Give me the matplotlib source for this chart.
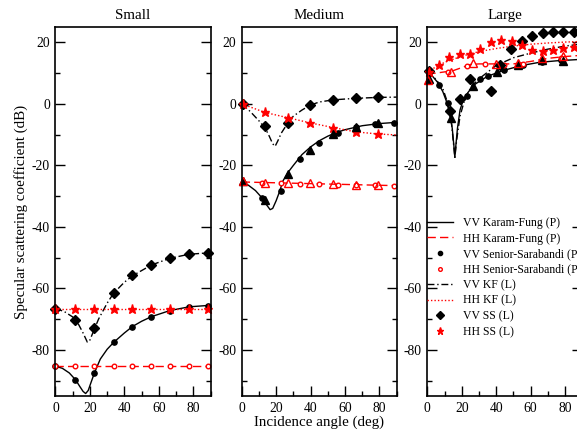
import matplotlib
matplotlib.use('Agg')
import matplotlib.pyplot as plt
from matplotlib.ticker import MultipleLocator

plt.rcParams['font.family'] = ['Liberation Serif', 'DejaVu Serif']
plt.rcParams['axes.unicode_minus'] = False

titles = ['Small', 'Medium', 'Large']

# ---- Small ----
sm_vv_kf_p_x = [0, 4, 8, 11.6, 14, 16, 17.5, 19, 20.5, 22.6, 26, 30, 33.7, 40, 44.7, 50, 55.7, 66.5, 77.6, 90]
sm_vv_kf_p_y = [-85.3, -86, -87.5, -89.7, -91.8, -93.5, -94.2, -93.2, -90.8, -87.5, -83, -79.8, -77.6, -74.5,
                -72.4, -70.7, -69.2, -67.2, -66, -65.5]
sm_hh_kf_p_x = [0, 90]
sm_hh_kf_p_y = [-85.2, -85.2]
sm_vv_ss_p_x = [0, 11.6, 22.6, 33.7, 44.7, 55.7, 66.5, 77.6, 88.6]
sm_vv_ss_p_y = [-85.3, -89.7, -87.5, -77.6, -72.4, -69.2, -67.2, -66, -65.6]
sm_hh_ss_p_x = [0, 11.6, 22.6, 33.7, 44.7, 55.7, 66.5, 77.6, 88.6]
sm_hh_ss_p_y = [-85.2] * 9
sm_vv_kf_l_x = [0, 5, 10, 13, 16, 18.5, 20, 22, 25, 30, 33.7, 40, 44.7, 55.7, 66.5, 77.6, 90]
sm_vv_kf_l_y = [-66.6, -67.5, -69.3, -71.3, -74.5, -77.5, -76.8, -74, -70, -64.8, -61.6, -58, -55.9, -52.4,
                -50.2, -48.9, -48.4]
sm_hh_kf_l_x = [0, 90]
sm_hh_kf_l_y = [-66.6, -66.6]
sm_vv_ss_l_x = [0, 11.6, 22.6, 33.7, 44.7, 55.7, 66.5, 77.6, 88.6]
sm_vv_ss_l_y = [-66.6, -70.3, -73, -61.4, -55.8, -52.4, -50.1, -48.9, -48.5]
sm_hh_ss_l_x = [0, 11.6, 22.6, 33.7, 44.7, 55.7, 66.5, 77.6, 88.6]
sm_hh_ss_l_y = [-66.6] * 9
sm_tri_vv_x, sm_tri_vv_y = [], []
sm_tri_hh_x, sm_tri_hh_y = [], []

# ---- Medium ----
md_vv_kf_p_x = [0, 4, 8, 12, 14, 16.5, 18, 20, 22, 24, 27, 30, 35, 40, 45, 50, 55, 60, 70, 80, 90]
md_vv_kf_p_y = [-25.3, -26.5, -28.2, -30.7, -32.5, -34.4, -34, -31.5, -28.5, -25, -22.2, -20, -16.5, -14,
                -12, -10.5, -9.3, -8.4, -7.1, -6.4, -6.0]
md_hh_kf_p_x = [0, 15, 30, 45, 60, 75, 90]
md_hh_kf_p_y = [-25.4, -25.6, -25.8, -26.0, -26.2, -26.4, -26.6]
md_vv_ss_p_x = [12, 22.7, 33.8, 44.7, 55.7, 66.6, 77.5, 88.5]
md_vv_ss_p_y = [-30.7, -28.3, -18, -12.6, -9.4, -7.6, -6.6, -6.1]
md_hh_ss_p_x = [12, 22.7, 33.8, 44.7, 55.7, 66.6, 77.5, 88.5]
md_hh_ss_p_y = [-25.6, -25.8, -26.0, -26.1, -26.3, -26.4, -26.5, -26.6]
md_vv_kf_l_x = [0, 5, 10, 13.6, 16, 18, 19.4, 21, 23, 26.8, 30, 35, 39.9, 45, 53, 66, 79, 90]
md_vv_kf_l_y = [0, -2.5, -5.5, -7.8, -10.5, -13, -13.8, -12, -9.5, -6.2, -4, -2, -0.4, 0.6, 1.3, 1.8, 2.1, 2.2]
md_hh_kf_l_x = [0, 13.6, 26.8, 39.9, 53.1, 66.1, 79.2, 90]
md_hh_kf_l_y = [0, -2.8, -4.5, -6.2, -7.7, -9.1, -9.8, -10.1]
md_vv_ss_l_x = [0.5, 13.6, 26.8, 39.9, 53.1, 66.1, 79.2]
md_vv_ss_l_y = [0, -7.2, -6.1, -0.3, 1.3, 1.8, 2.1]
md_hh_ss_l_x = [0.5, 13.6, 26.8, 39.9, 53.1, 66.1, 79.2]
md_hh_ss_l_y = [0, -2.8, -4.5, -6.2, -7.7, -9.1, -9.8]
md_tri_vv_x = [0.5, 13.6, 26.8, 39.9, 53.1, 66.1, 79.2]
md_tri_vv_y = [-25.1, -31.4, -22.9, -14.9, -9.9, -7.5, -6.3]
md_tri_hh_x = [0.5, 13.6, 26.8, 39.9, 53.1, 66.1, 79.2]
md_tri_hh_y = [-25.1, -25.6, -25.7, -25.8, -26.0, -26.3, -26.4]

# ---- Large ----
lg_vv_kf_p_x = [0, 3, 6, 9, 11, 13, 14.5, 15.5, 16, 16.5, 17.5, 19, 21, 24, 28, 35, 45, 55, 65, 75, 90]
lg_vv_kf_p_y = [9.5, 9.0, 7.0, 4.0, 1.0, -3, -8, -14, -17.4, -14, -8, -2, 1.5, 4, 6.5, 9, 11, 12.5, 13.5, 14, 14.5]
lg_hh_kf_p_x = [0, 5, 10, 14, 20, 25, 30, 40, 50, 60, 70, 80, 90]
lg_hh_kf_p_y = [9.8, 10.0, 10.4, 10.6, 11.8, 12.8, 13.0, 13.0, 13.0, 13.8, 14.8, 15.4, 15.8]
lg_vv_ss_p_x = [1, 7, 11.9, 22.9, 30.6, 35, 44.8, 55.8, 66.8, 77.8, 88.8]
lg_vv_ss_p_y = [10.9, 6.0, 0.4, 2.6, 8.0, 9.0, 11.1, 12.8, 13.6, 14.2, 14.5]
lg_hh_ss_p_x = [1, 11.9, 22.9, 33.5, 44.8, 55.8, 66.8, 77.8, 88.8]
lg_hh_ss_p_y = [9.8, 10.5, 12.2, 13.0, 12.6, 13.0, 14.0, 15.0, 15.6]
lg_vv_kf_l_x = [0, 5, 9, 12, 14, 16, 17, 19, 22, 26, 32, 40, 50, 60, 70, 80, 90]
lg_vv_kf_l_y = [10.5, 8, 5, 0, -6, -17.4, -12, -4, 2, 6, 9, 12.5, 15, 16.5, 17.8, 18.8, 19.5]
lg_hh_kf_l_x = [0, 10, 20, 30, 40, 50, 60, 70, 80, 90]
lg_hh_kf_l_y = [10.5, 13.5, 15.5, 17, 18, 18.8, 19.4, 19.8, 20.1, 20.3]
lg_vv_ss_l_x = [1, 13, 19, 25, 37, 42, 48.5, 55, 61, 67, 73, 79, 85]
lg_vv_ss_l_y = [10.7, -2.2, 1.6, 8.2, 4.1, 12.8, 18, 20.5, 22, 23, 23.3, 23.4, 23.4]
lg_hh_ss_l_x = [1, 7, 12.8, 19, 24.8, 30.6, 36.8, 42.6, 49, 54.8, 61, 67, 72.9, 78.7, 84.9]
lg_hh_ss_l_y = [10.3, 12.8, 15.4, 16.3, 16.3, 17.9, 20.1, 20.9, 20.3, 19, 17.6, 17.1, 17.4, 18.2, 18.4]
lg_tri_vv_x = [1, 13.8, 26.7, 40.3, 52.5, 66.5, 78.7]
lg_tri_vv_y = [8.2, -4.6, 5.7, 10.3, 12.7, 14.3, 14.0]
lg_tri_hh_x = [0.3, 13.8, 26.5, 40, 52.5, 66.5, 78.7]
lg_tri_hh_y = [7.8, 10.5, 13.2, 13.0, 13.2, 14.8, 15.5]

panels = [
    (sm_vv_kf_p_x, sm_vv_kf_p_y, sm_hh_kf_p_x, sm_hh_kf_p_y, sm_vv_ss_p_x, sm_vv_ss_p_y, sm_hh_ss_p_x, sm_hh_ss_p_y,
     sm_vv_kf_l_x, sm_vv_kf_l_y, sm_hh_kf_l_x, sm_hh_kf_l_y, sm_vv_ss_l_x, sm_vv_ss_l_y, sm_hh_ss_l_x, sm_hh_ss_l_y,
     sm_tri_vv_x, sm_tri_vv_y, sm_tri_hh_x, sm_tri_hh_y),
    (md_vv_kf_p_x, md_vv_kf_p_y, md_hh_kf_p_x, md_hh_kf_p_y, md_vv_ss_p_x, md_vv_ss_p_y, md_hh_ss_p_x, md_hh_ss_p_y,
     md_vv_kf_l_x, md_vv_kf_l_y, md_hh_kf_l_x, md_hh_kf_l_y, md_vv_ss_l_x, md_vv_ss_l_y, md_hh_ss_l_x, md_hh_ss_l_y,
     md_tri_vv_x, md_tri_vv_y, md_tri_hh_x, md_tri_hh_y),
    (lg_vv_kf_p_x, lg_vv_kf_p_y, lg_hh_kf_p_x, lg_hh_kf_p_y, lg_vv_ss_p_x, lg_vv_ss_p_y, lg_hh_ss_p_x, lg_hh_ss_p_y,
     lg_vv_kf_l_x, lg_vv_kf_l_y, lg_hh_kf_l_x, lg_hh_kf_l_y, lg_vv_ss_l_x, lg_vv_ss_l_y, lg_hh_ss_l_x, lg_hh_ss_l_y,
     lg_tri_vv_x, lg_tri_vv_y, lg_tri_hh_x, lg_tri_hh_y),
]

red = '#ff0000'
fig = plt.figure(figsize=(5.77, 4.36), dpi=100)
W, H = 577.0, 436.0
lefts = [55.5, 241.7, 427.3]

for i, p in enumerate(panels):
    ax = fig.add_axes([lefts[i] / W, 40 / H, 155 / W, 369 / H])
    (a_x, a_y, b_x, b_y, c_x, c_y, d_x, d_y, e_x, e_y, f_x, f_y,
     g_x, g_y, h_x, h_y, t1x, t1y, t2x, t2y) = p
    ax.plot(a_x, a_y, color='k', lw=1, label='VV Karam-Fung (P)')
    ax.plot(b_x, b_y, color=red, lw=1, dashes=(6, 3), label='HH Karam-Fung (P)')
    ax.plot(c_x, c_y, ls='none', marker='o', ms=3.8, color='k', clip_on=False, label='VV Senior-Sarabandi (P)')
    ax.plot(d_x, d_y, ls='none', marker='o', ms=3.3, mfc='white', mec=red, mew=1, clip_on=False,
            label='HH Senior-Sarabandi (P)')
    ax.plot(e_x, e_y, color='k', lw=1, dashes=(5, 2, 1, 2), label='VV KF (L)')
    ax.plot(f_x, f_y, color=red, lw=1, dashes=(1, 1.5), label='HH KF (L)')
    ax.plot(g_x, g_y, ls='none', marker='D', ms=5, color='k', clip_on=False, label='VV SS (L)')
    ax.plot(h_x, h_y, ls='none', marker='*', ms=6.5, color=red, clip_on=False, label='HH SS (L)')
    if t1x:
        ax.plot(t1x, t1y, ls='none', marker='^', ms=6, color='k', clip_on=False)
        ax.plot(t2x, t2y, ls='none', marker='^', ms=6, mfc='none', mec=red, mew=1, clip_on=False)

    ax.set_xlim(0, 90)
    ax.set_ylim(-95, 25)
    ax.xaxis.set_major_locator(MultipleLocator(20))
    ax.xaxis.set_minor_locator(MultipleLocator(10))
    ax.yaxis.set_major_locator(MultipleLocator(20))
    ax.yaxis.set_minor_locator(MultipleLocator(10))
    ax.tick_params(which='both', direction='in', right=True, top=False, width=1, labelsize=9.8, pad=4)
    ax.tick_params(which='major', length=7)
    ax.tick_params(which='minor', length=3.6)
    for s in ax.spines.values():
        s.set_linewidth(1.2)
    ax.set_title(titles[i], fontsize=10.8, pad=6)
    if i == 0:
        ax.set_ylabel('Specular scattering coefficient (dB)', fontsize=10.8, labelpad=3)
    if i == 1:
        ax.set_xlabel('Incidence angle (deg)', fontsize=10.8, labelpad=1)
    if i == 2:
        ax.legend(loc='upper left', bbox_to_anchor=(0.0, 0.485), frameon=False, fontsize=8.5,
                  borderpad=0, borderaxespad=0, handlelength=2.2, handletextpad=0.85, labelspacing=0.3,
                  markerscale=0.8)

fig.savefig('out.png', dpi=100)
